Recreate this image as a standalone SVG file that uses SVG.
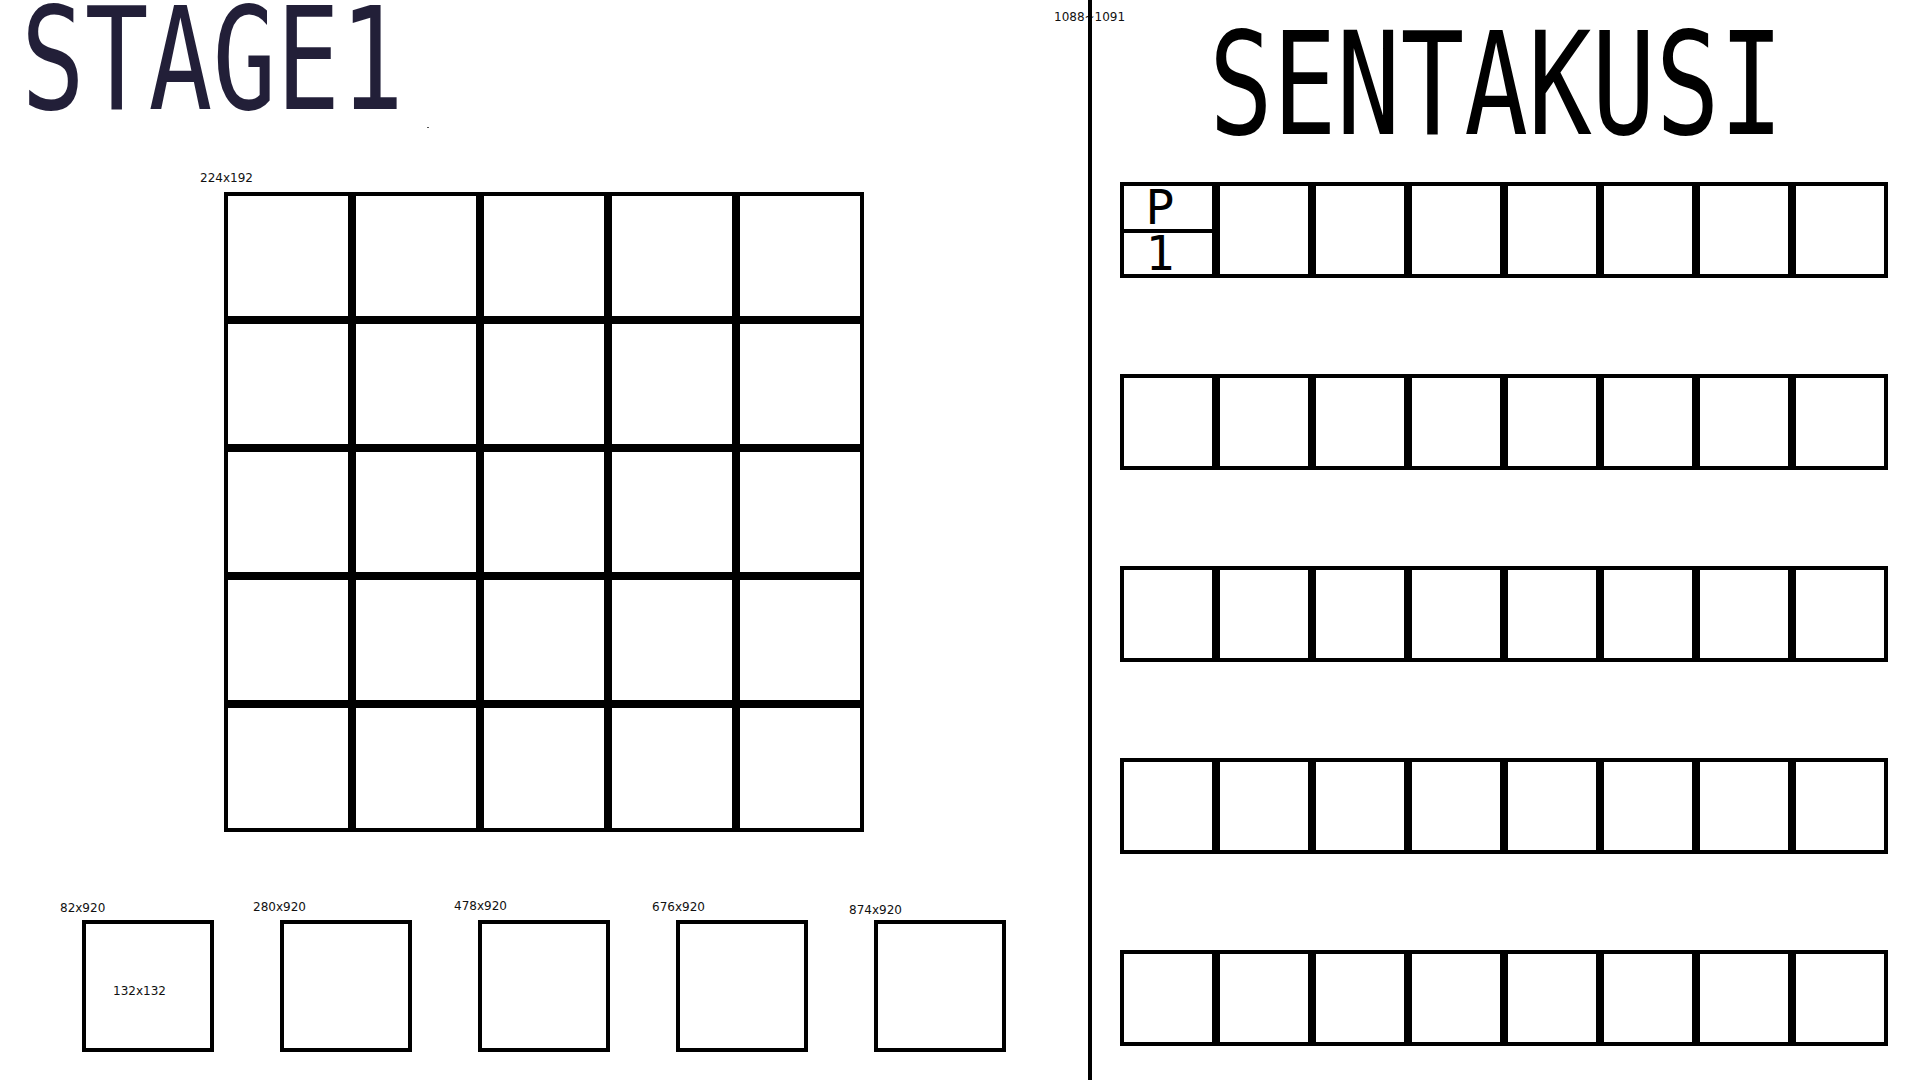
<svg xmlns="http://www.w3.org/2000/svg" width="1920" height="1080" viewBox="0 0 1920 1080">
  <style>
    .title { font-family: "DejaVu Sans Mono", "Liberation Mono", monospace; font-size: 106px; }
    .lbl { font-family: "DejaVu Sans", "Verdana", sans-serif; font-size: 12px; fill: #111; }
    .frame { fill: #fff; stroke: #000; stroke-width: 4; }
    .div { stroke: #000; stroke-width: 8; fill: none; }
    .thin { stroke: #000; stroke-width: 4; fill: none; }
    .cell { font-family: "DejaVu Sans Mono", "Liberation Mono", monospace; font-size: 48px; fill: #000; text-anchor: middle; }
  </style>
  <rect width="1920" height="1080" fill="#fff"/>

  <g id="stage-title">
    <text class="title" fill="#221f38" transform="translate(21,109) scale(1,1.345)">STAGE1</text>
    <rect x="427" y="127" width="2" height="1" fill="#555"/>
  </g>

  <g id="sentakusi-title">
    <text class="title" fill="#000" transform="translate(1209,134) scale(1,1.345)">SENTAKUSI</text>
  </g>

  <g id="board">
    <text class="lbl" x="200" y="182">224x192</text>
    <rect class="frame" x="226" y="194" width="636" height="636"/>
    <path class="div" d="M352 192V832M480 192V832M608 192V832M736 192V832M224 320H864M224 448H864M224 576H864M224 704H864"/>
  </g>

  <g id="slot-1">
    <text class="lbl" x="60" y="912">82x920</text>
    <rect class="frame" x="84" y="922" width="128" height="128"/>
    <text class="lbl" x="113" y="995">132x132</text>
  </g>
  <g id="slot-2">
    <text class="lbl" x="253" y="911">280x920</text>
    <rect class="frame" x="282" y="922" width="128" height="128"/>
  </g>
  <g id="slot-3">
    <text class="lbl" x="454" y="910">478x920</text>
    <rect class="frame" x="480" y="922" width="128" height="128"/>
  </g>
  <g id="slot-4">
    <text class="lbl" x="652" y="911">676x920</text>
    <rect class="frame" x="678" y="922" width="128" height="128"/>
  </g>
  <g id="slot-5">
    <text class="lbl" x="849" y="914">874x920</text>
    <rect class="frame" x="876" y="922" width="128" height="128"/>
  </g>

  <g id="divider">
    <text class="lbl" x="1054" y="21">1088~1091</text>
    <rect x="1088" y="0" width="4" height="1080" fill="#000"/>
  </g>

  <g id="row-1">
    <rect class="frame" x="1122" y="184" width="764" height="92"/>
    <path class="div" d="M1216 182V278M1312 182V278M1408 182V278M1504 182V278M1600 182V278M1696 182V278M1792 182V278"/>
    <path class="thin" d="M1120 231H1216"/>
    <text class="cell" x="1160" y="224">P</text>
    <text class="cell" x="1160" y="270">1</text>
  </g>
  <g id="row-2">
    <rect class="frame" x="1122" y="376" width="764" height="92"/>
    <path class="div" d="M1216 374V470M1312 374V470M1408 374V470M1504 374V470M1600 374V470M1696 374V470M1792 374V470"/>
  </g>
  <g id="row-3">
    <rect class="frame" x="1122" y="568" width="764" height="92"/>
    <path class="div" d="M1216 566V662M1312 566V662M1408 566V662M1504 566V662M1600 566V662M1696 566V662M1792 566V662"/>
  </g>
  <g id="row-4">
    <rect class="frame" x="1122" y="760" width="764" height="92"/>
    <path class="div" d="M1216 758V854M1312 758V854M1408 758V854M1504 758V854M1600 758V854M1696 758V854M1792 758V854"/>
  </g>
  <g id="row-5">
    <rect class="frame" x="1122" y="952" width="764" height="92"/>
    <path class="div" d="M1216 950V1046M1312 950V1046M1408 950V1046M1504 950V1046M1600 950V1046M1696 950V1046M1792 950V1046"/>
  </g>
</svg>
